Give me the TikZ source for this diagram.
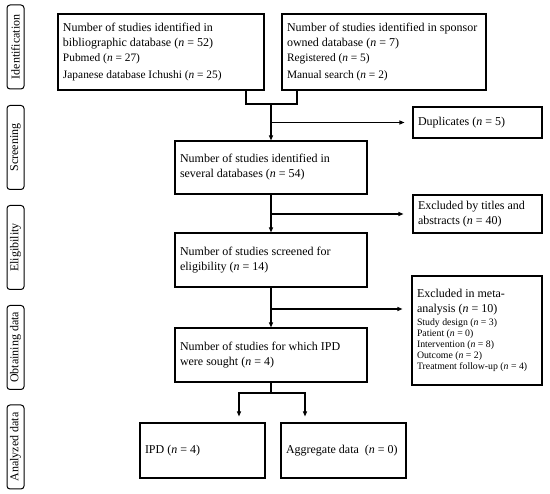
\documentclass[tikz,border=0pt]{standalone}
\usepackage{fontspec}
\setmainfont{Liberation Serif}
\usetikzlibrary{arrows.meta,calc}
\newcommand{\nn}{\textit{n}}
\newcommand{\bigf}{\fontsize{12}{15}\selectfont}
\newcommand{\smf}{\fontsize{11.4}{17}\selectfont}
\newcommand{\smmf}{\fontsize{9.8}{11}\selectfont}
\begin{document}
\begin{tikzpicture}[x=1pt,y=-1pt,
  box/.style={draw, line width=1.1pt, inner sep=0pt, anchor=center},
  lab/.style={draw, line width=1pt, rounded corners=3pt, rotate=90, minimum width=84pt, minimum height=17pt, inner sep=0pt, font=\fontsize{12}{14}\selectfont},
  conn/.style={line width=1.1pt},
  arr/.style={conn, -{Triangle[length=5pt,width=4pt]}}]
\useasboundingbox (0,0) rectangle (550,494);

% side labels
\node[lab] (L1) at (15.5,47) {Identification};
\node[lab] (L2) at (15.5,147.5) {Screening};
\node[lab] (L3) at (15.5,247.5) {Eligibility};
\node[lab] (L4) at (15.5,347.5) {Obtaining data};
\node[lab] (L5) at (15.5,447) {Analyzed data};

% boxes
\node[box, minimum width=206pt, minimum height=76pt] (A) at (161,52)
  {\parbox{196pt}{\bigf Number of studies identified in\\ bibliographic database (\nn{} = 52)\par\vspace{-2pt}\smf Pubmed (\nn{} = 27)\\ Japanese database Ichushi (\nn{} = 25)}};
\node[box, minimum width=204pt, minimum height=76pt] (B) at (384,52)
  {\parbox{194pt}{\bigf Number of studies identified in sponsor\\ owned database (\nn{} = 7)\par\vspace{-2pt}\smf Registered (\nn{} = 5)\\ Manual search (\nn{} = 2)}};
\node[box, minimum width=129pt, minimum height=31pt] (Dup) at (477.5,122.5)
  {\parbox{119pt}{\bigf Duplicates (\nn{} = 5)}};
\node[box, minimum width=192pt, minimum height=53pt] (C) at (271,167.5)
  {\parbox{182pt}{\bigf Number of studies identified in\\ several databases (\nn{} = 54)}};
\node[box, minimum width=129pt, minimum height=38pt] (T) at (477.5,214)
  {\parbox{119pt}{\bigf Excluded by titles and\\ abstracts (\nn{} = 40)}};
\node[box, minimum width=192pt, minimum height=54pt] (D) at (271,260)
  {\parbox{182pt}{\bigf Number of studies screened for\\ eligibility (\nn{} = 14)}};
\node[box, minimum width=130pt, minimum height=109pt] (M) at (477,330.5)
  {\parbox{120pt}{\bigf Excluded in meta-\\ analysis (\nn{} = 10)\par\vspace{2pt}\smmf Study design (\nn{} = 3)\\ Patient (\nn{} = 0)\\ Intervention (\nn{} = 8)\\ Outcome (\nn{} = 2)\\ Treatment follow-up (\nn{} = 4)}};
\node[box, minimum width=192pt, minimum height=54pt] (E) at (271,355)
  {\parbox{182pt}{\bigf Number of studies for which IPD\\ were sought (\nn{} = 4)}};
\node[box, minimum width=125pt, minimum height=55pt] (IPD) at (202.5,450.5)
  {\parbox{115pt}{\bigf IPD (\nn{} = 4)}};
\node[box, minimum width=125pt, minimum height=55pt] (Agg) at (343.5,450.5)
  {\parbox{115pt}{\bigf Aggregate data~ (\nn{} = 0)}};

% connectors
\coordinate (j1) at (271,104);
\draw[conn] ([xshift=85pt]A.south) |- (j1);
\draw[conn] ([xshift=-87pt]B.south) |- (j1);
\draw[arr] (j1) -- (C.north);
\draw[arr, shorten >=8pt] (j1 |- Dup.west) -- (Dup.west);
\draw[arr] (C.south) -- (D.north);
\draw[arr, shorten >=9pt] (C.south |- T.west) -- (T.west);
\coordinate (j3) at (271,309);
\draw[arr] (D.south) -- (E.north);
\draw[arr, shorten >=9pt] (j3) -- (j3 -| M.west);
\coordinate (j4) at (271,393);
\draw[conn] (E.south) -- (j4);
\draw[arr, shorten >=6pt] (j4) -| ([xshift=36.5pt]IPD.north);
\draw[arr, shorten >=6pt] (j4) -| ([xshift=-38.5pt]Agg.north);
\end{tikzpicture}
\end{document}
